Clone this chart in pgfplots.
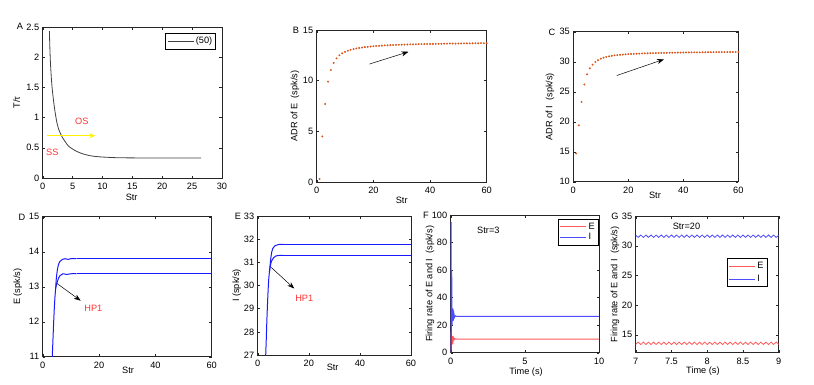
\documentclass[border=0pt]{standalone}
\usepackage{fontspec}
\setmainfont{Liberation Sans}
\usepackage{pgfplots}
\pgfplotsset{compat=1.18}
\usetikzlibrary{arrows.meta}
\newcommand\fs{\fontsize{9.2}{10.5}\selectfont}
\definecolor{dotc}{rgb}{0.85,0.33,0.10}
\definecolor{lred}{rgb}{1,0.35,0.35}
\definecolor{lblue}{rgb}{0.3,0.3,1}
\definecolor{hred}{rgb}{1,0.2,0.2}
\definecolor{bblue}{rgb}{0.1,0.1,1}
\tikzset{arr/.style={black, line width=0.5pt, -{Stealth[length=7pt,width=5pt]}}}
\pgfplotsset{
  myax/.style={scale only axis, anchor=south west,
    font=\fs, tick label style={font=\fs}, label style={font=\fs},
    /pgf/number format/assume math mode=true,
    axis line style={black!85, line width=0.6pt},
    tick style={black!85, line width=0.4pt}, major tick length=2.5pt,
    xticklabel style={yshift=-1.5pt},
    legend style={font=\fs, draw=black, line width=0.6pt, inner sep=1.5pt, row sep=-1pt, cells={anchor=west}},
    legend image code/.code={\draw[##1] (0pt,0pt) -- (26pt,0pt);},
  },
}
\begin{document}
\begin{tikzpicture}
\path[use as bounding box] (0pt,0pt) rectangle (814pt,384pt);

% ---------------- A ----------------
\begin{axis}[myax, at={(42.7pt,206pt)}, width=179.3pt, height=151pt,
  xmin=0, xmax=30, ymin=0, ymax=2.5,
  xtick={0,5,10,15,20,25,30}, ytick={0,0.5,1,1.5,2,2.5},
  xlabel={Str}, ylabel={T/τ},
  xlabel style={at={(axis description cs:0.496,-0.13)}, anchor=center},
  ylabel style={at={(axis description cs:-0.145,0.5)}, anchor=center},
  legend style={at={(0.967,0.958)}, anchor=north east}]
\addplot[draw=black!75, line width=0.8pt, smooth] coordinates {
(1.12,2.43) (1.2,2.15) (1.3,1.9) (1.45,1.65) (1.6,1.47) (1.8,1.29) (2.0,1.14)
(2.35,0.93) (2.7,0.80) (3.2,0.69) (3.7,0.61) (4.3,0.53) (5.0,0.48) (5.7,0.44)
(6.7,0.40) (7.9,0.37) (9,0.355) (10.2,0.346) (12.4,0.336) (15,0.333) (20,0.332) (26.5,0.332)};
\addlegendentry{(50)}
\draw[yellow, line width=1.3pt, -{Stealth[length=6pt,width=5pt]}] (axis cs:0.67,0.70) -- (axis cs:8.8,0.70);
\node[text=hred, font=\fs] at (axis cs:6.54,0.93) {OS};
\node[text=hred, font=\fs] at (axis cs:1.62,0.42) {SS};
\end{axis}

% ---------------- B ----------------
\begin{axis}[myax, at={(316.7pt,202pt)}, width=170pt, height=152pt,
  xmin=0, xmax=60, ymin=0, ymax=15,
  xtick={0,20,40,60}, ytick={0,5,10,15},
  xlabel={Str}, ylabel={ADR of E\ \ (spk/s)},
  xlabel style={at={(axis description cs:0.5,-0.118)}, anchor=center},
  ylabel style={at={(axis description cs:-0.128,0.5)}, anchor=center}]
\addplot[only marks, mark=*, mark size=0.75pt, color=dotc] coordinates {
(1,0.3) (2,4.5) (3,7.7) (4,9.9) (5,11.05) (6,11.75) (7,12.2) (8,12.5) (9,12.7) (10,12.85)
(11,12.96) (12,13.05) (13,13.12) (14,13.18) (15,13.23) (16,13.27) (17,13.31) (18,13.34) (19,13.37) (20,13.40)
(21,13.42) (22,13.44) (23,13.46) (24,13.48) (25,13.49) (26,13.51) (27,13.52) (28,13.53) (29,13.54) (30,13.55)
(31,13.56) (32,13.57) (33,13.58) (34,13.59) (35,13.59) (36,13.60) (37,13.61) (38,13.61) (39,13.62) (40,13.62)
(41,13.63) (42,13.63) (43,13.64) (44,13.64) (45,13.65) (46,13.65) (47,13.66) (48,13.66) (49,13.66) (50,13.67)
(51,13.67) (52,13.68) (53,13.68) (54,13.68) (55,13.69) (56,13.69) (57,13.69) (58,13.70) (59,13.70) (60,13.70)};
\draw[arr] (axis cs:18.6,11.64) -- (axis cs:32.4,12.85);
\end{axis}

% ---------------- C ----------------
\begin{axis}[myax, at={(573.3pt,202.3pt)}, width=165pt, height=150pt,
  xmin=0, xmax=60, ymin=10, ymax=35,
  xtick={0,20,40,60}, ytick={10,15,20,25,30,35},
  xlabel={Str}, ylabel={ADR of I\ \ (spk/s)},
  xlabel style={at={(axis description cs:0.495,-0.09)}, anchor=center},
  ylabel style={at={(axis description cs:-0.141,0.5)}, anchor=center}]
\addplot[only marks, mark=*, mark size=0.75pt, color=dotc] coordinates {
(1,14.7) (2,19.4) (3,23.3) (4,26.2) (5,27.9) (6,28.9) (7,29.5) (8,29.95) (9,30.25) (10,30.5)
(11,30.67) (12,30.8) (13,30.9) (14,30.98) (15,31.05) (16,31.1) (17,31.15) (18,31.19) (19,31.23) (20,31.26)
(21,31.29) (22,31.31) (23,31.33) (24,31.35) (25,31.37) (26,31.39) (27,31.40) (28,31.42) (29,31.43) (30,31.44)
(31,31.45) (32,31.46) (33,31.47) (34,31.48) (35,31.49) (36,31.50) (37,31.51) (38,31.52) (39,31.52) (40,31.53)
(41,31.54) (42,31.54) (43,31.55) (44,31.55) (45,31.56) (46,31.56) (47,31.57) (48,31.57) (49,31.58) (50,31.58)
(51,31.59) (52,31.59) (53,31.60) (54,31.60) (55,31.60) (56,31.61) (57,31.61) (58,31.61) (59,31.62) (60,31.62)};
\draw[arr] (axis cs:15.8,27.7) -- (axis cs:33,30.4);
\end{axis}

% ---------------- D ----------------
\begin{axis}[myax, at={(42.7pt,27.3pt)}, width=169pt, height=140pt,
  xmin=0, xmax=60, ymin=11, ymax=15,
  xtick={0,20,40,60}, ytick={11,12,13,14,15},
  xlabel={Str}, ylabel={E (spk/s)},
  xlabel style={at={(axis description cs:0.505,-0.095)}, anchor=center},
  ylabel style={at={(axis description cs:-0.148,0.5)}, anchor=center}]
\addplot[bblue, line width=1pt, smooth] coordinates {
(3.35,10.9) (3.6,11.4) (3.85,11.9) (4.1,12.35) (4.35,12.7) (4.6,12.95)
(4.8,13.2) (5.1,13.42) (5.5,13.6) (6.1,13.72) (7,13.78) (8,13.8) (9,13.78) (10,13.8) (12,13.8)};
\addplot[bblue, line width=1pt] coordinates {(12,13.8) (60,13.8)};
\addplot[bblue, line width=1pt, smooth] coordinates {
(4.6,12.95) (4.8,13.03) (5.1,13.12) (5.5,13.22) (6.2,13.32) (7.2,13.37) (8.5,13.35) (10,13.37) (12,13.37)};
\addplot[bblue, line width=1pt] coordinates {(12,13.37) (60,13.37)};
\draw[arr] (axis cs:4.94,13.1) -- (axis cs:13.5,12.6);
\node[text=hred, font=\fs] at (axis cs:18,12.38) {HP1};
\end{axis}

% ---------------- E ----------------
\begin{axis}[myax, at={(257.7pt,29pt)}, width=153.3pt, height=139pt,
  xmin=0, xmax=60, ymin=27, ymax=33,
  xtick={0,20,40,60}, ytick={27,28,29,30,31,32,33},
  xlabel={Str}, ylabel={I (spk/s)},
  xlabel style={at={(axis description cs:0.489,-0.091)}, anchor=center},
  ylabel style={at={(axis description cs:-0.137,0.5)}, anchor=center}]
\addplot[bblue, line width=1pt, smooth] coordinates {
(3.1,26.9) (3.3,27.5) (3.55,28.37) (3.8,29.1) (3.95,29.5) (4.15,29.95) (4.34,30.3) (4.6,30.6)
(4.87,30.9) (5.1,31.15) (5.5,31.45) (5.9,31.6) (6.8,31.72) (8.2,31.77) (10,31.77)};
\addplot[bblue, line width=1pt] coordinates {(10,31.77) (60,31.77)};
\addplot[bblue, line width=1pt, smooth] coordinates {
(4.6,30.6) (4.87,30.78) (5.2,30.98) (5.5,31.07) (6.2,31.2) (7.2,31.28) (8.5,31.3) (10,31.3)};
\addplot[bblue, line width=1pt] coordinates {(10,31.3) (60,31.3)};
\draw[arr] (axis cs:5.3,30.78) -- (axis cs:14.3,29.87);
\node[text=hred, font=\fs] at (axis cs:18.2,29.45) {HP1};
\end{axis}

% ---------------- F ----------------
\begin{axis}[myax, at={(450.7pt,31.3pt)}, width=148.3pt, height=137.7pt,
  xmin=0, xmax=10, ymin=0, ymax=100,
  xtick={0,5,10}, ytick={0,20,40,60,80,100},
  xlabel={Time (s)}, ylabel={Firing rate of E and I\ \ (spk/s)},
  xlabel style={at={(axis description cs:0.508,-0.138)}, anchor=center},
  ylabel style={at={(axis description cs:-0.14,0.5)}, anchor=center},
  legend style={at={(0.997,0.971)}, anchor=north east}]
\addplot[draw=lred, line width=0.9pt] coordinates {
(0,0) (0.02,15) (0.04,3) (0.06,13) (0.09,6) (0.12,12) (0.16,8) (0.2,11) (0.25,9.5) (0.3,10.2) (0.4,9.9) (10,9.9)};
\addlegendentry{E}
\addplot[draw=lblue, line width=0.9pt] coordinates {
(0,0) (0.03,95) (0.05,2) (0.07,60) (0.1,20) (0.13,32) (0.17,23) (0.21,29) (0.26,25.5) (0.32,26.8) (0.4,26.4) (10,26.4)};
\addlegendentry{I}
\node[font=\fs] at (axis cs:2.54,88.6) {Str=3};
\end{axis}

% ---------------- G ----------------
\begin{axis}[myax, at={(635.7pt,31.3pt)}, width=143pt, height=136.7pt,
  xmin=7, xmax=9, ymin=12, ymax=35,
  xtick={7,7.5,8,8.5,9}, ytick={15,20,25,30,35},
  xlabel={Time (s)}, ylabel={Firing rate of E and I\ \ (spk/s)},
  xlabel style={at={(axis description cs:0.47,-0.134)}, anchor=center},
  ylabel style={at={(axis description cs:-0.145,0.5)}, anchor=center},
  legend style={at={(0.92,0.69)}, anchor=north east, row sep=1pt}]
\addplot[draw=lred, line width=0.8pt, smooth] coordinates {
(7.0000,13.38) (7.0357,13.78) (7.0714,13.38) (7.1071,13.78) (7.1429,13.38) (7.1786,13.78) (7.2143,13.38) (7.2500,13.78)
(7.2857,13.38) (7.3214,13.78) (7.3571,13.38) (7.3929,13.78) (7.4286,13.38) (7.4643,13.78) (7.5000,13.38) (7.5357,13.78)
(7.5714,13.38) (7.6071,13.78) (7.6429,13.38) (7.6786,13.78) (7.7143,13.38) (7.7500,13.78) (7.7857,13.38) (7.8214,13.78)
(7.8571,13.38) (7.8929,13.78) (7.9286,13.38) (7.9643,13.78) (8.0000,13.38) (8.0357,13.78) (8.0714,13.38) (8.1071,13.78)
(8.1429,13.38) (8.1786,13.78) (8.2143,13.38) (8.2500,13.78) (8.2857,13.38) (8.3214,13.78) (8.3571,13.38) (8.3929,13.78)
(8.4286,13.38) (8.4643,13.78) (8.5000,13.38) (8.5357,13.78) (8.5714,13.38) (8.6071,13.78) (8.6429,13.38) (8.6786,13.78)
(8.7143,13.38) (8.7500,13.78) (8.7857,13.38) (8.8214,13.78) (8.8571,13.38) (8.8929,13.78) (8.9286,13.38) (8.9643,13.78) (9.0000,13.38)};
\addlegendentry{E}
\addplot[draw=lblue, line width=0.8pt, smooth] coordinates {
(7.0000,31.8) (7.0357,31.4) (7.0714,31.8) (7.1071,31.4) (7.1429,31.8) (7.1786,31.4) (7.2143,31.8) (7.2500,31.4)
(7.2857,31.8) (7.3214,31.4) (7.3571,31.8) (7.3929,31.4) (7.4286,31.8) (7.4643,31.4) (7.5000,31.8) (7.5357,31.4)
(7.5714,31.8) (7.6071,31.4) (7.6429,31.8) (7.6786,31.4) (7.7143,31.8) (7.7500,31.4) (7.7857,31.8) (7.8214,31.4)
(7.8571,31.8) (7.8929,31.4) (7.9286,31.8) (7.9643,31.4) (8.0000,31.8) (8.0357,31.4) (8.0714,31.8) (8.1071,31.4)
(8.1429,31.8) (8.1786,31.4) (8.2143,31.8) (8.2500,31.4) (8.2857,31.8) (8.3214,31.4) (8.3571,31.8) (8.3929,31.4)
(8.4286,31.8) (8.4643,31.4) (8.5000,31.8) (8.5357,31.4) (8.5714,31.8) (8.6071,31.4) (8.6429,31.8) (8.6786,31.4)
(8.7143,31.8) (8.7500,31.4) (8.7857,31.8) (8.8214,31.4) (8.8571,31.8) (8.8929,31.4) (8.9286,31.8) (8.9643,31.4) (9.0000,31.8)};
\addlegendentry{I}
\node[font=\fs] at (axis cs:7.71,33.2) {Str=20};
\end{axis}

% panel letters
\node[font=\fs] at (20pt,358pt) {A};
\node[font=\fs] at (296pt,354pt) {B};
\node[font=\fs] at (552pt,352pt) {C};
\node[font=\fs] at (22pt,167pt) {D};
\node[font=\fs] at (238pt,168pt) {E};
\node[font=\fs] at (426pt,169pt) {F};
\node[font=\fs] at (615pt,168pt) {G};
\end{tikzpicture}
\end{document}
